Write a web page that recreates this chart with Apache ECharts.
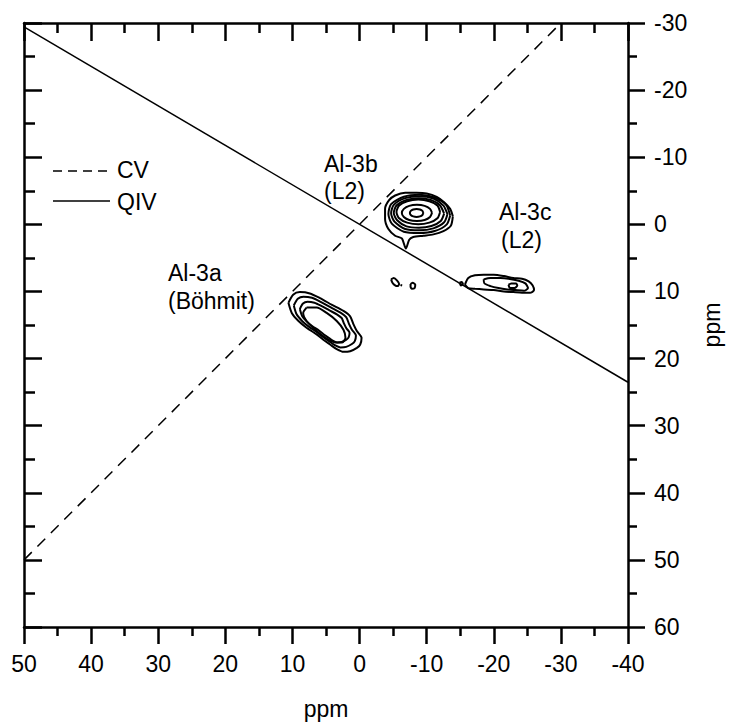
<!DOCTYPE html>
<html><head><meta charset="utf-8">
<script src="https://cdn.jsdelivr.net/npm/echarts@6/dist/echarts.min.js"></script>
<style>html,body{margin:0;padding:0;background:#fff}#c{width:731px;height:725px}</style>
</head><body><div id="c"></div>
<script>
// Reference lines
const cvLine = [[50, 50], [-30, -30]];
const qivLine = [[50, -29.41], [-40, 23.53]];

// Al-3b contours (inner -> outer)
const al3b_1 = [[-9.5,-1.7],[-9.37,-1.4],[-9.0,-1.18],[-8.5,-1.1],[-8.0,-1.18],[-7.63,-1.4],[-7.5,-1.7],[-7.63,-2.0],[-8.0,-2.22],[-8.5,-2.3],[-9.0,-2.22],[-9.37,-2.0]];
const al3b_2 = [[-10.8,-1.7],[-10.5,-1.1],[-9.7,-0.65],[-8.55,-0.5],[-7.4,-0.65],[-6.6,-1.1],[-6.3,-1.7],[-6.6,-2.3],[-7.4,-2.75],[-8.55,-2.9],[-9.7,-2.75],[-10.5,-2.3]];
const al3b_3 = [[-12.0,-1.85],[-11.6,-0.9],[-10.4,-0.25],[-8.75,0.0],[-7.1,-0.25],[-5.9,-0.9],[-5.5,-1.85],[-5.9,-2.8],[-7.1,-3.45],[-8.75,-3.7],[-10.4,-3.45],[-11.6,-2.8]];
const al3b_4 = [[-12.6,-1.6],[-12.1,-0.5],[-10.7,0.25],[-8.85,0.5],[-7.0,0.3],[-5.6,-0.6],[-5.1,-1.7],[-5.5,-2.8],[-6.9,-3.6],[-8.85,-3.9],[-10.7,-3.6],[-12.0,-2.8]];
const al3b_5 = [[-13.1,-1.5],[-12.6,-0.3],[-11.0,0.6],[-8.9,0.9],[-6.8,0.7],[-5.2,-0.4],[-4.7,-1.65],[-5.1,-2.9],[-6.8,-3.9],[-8.9,-4.2],[-11.0,-3.85],[-12.5,-2.8]];
const al3b_6 = [[-13.5,-1.3],[-13.0,0.0],[-11.2,1.0],[-8.9,1.3],[-6.6,1.1],[-4.8,-0.1],[-4.3,-1.55],[-4.7,-3.0],[-6.6,-4.1],[-8.9,-4.4],[-11.2,-4.0],[-12.9,-2.9]];
const al3b_7 = [[-13.9,-1.2],[-13.6,0.2],[-12.5,1.0],[-11.0,1.5],[-9.5,1.7],[-8.0,1.9],[-7.4,2.3],[-6.9,3.6],[-6.3,2.1],[-5.3,1.7],[-4.3,0.7],[-3.8,-0.8],[-3.8,-2.3],[-4.4,-3.6],[-5.3,-4.3],[-6.8,-4.7],[-8.5,-4.7],[-10.0,-4.6],[-11.5,-4.1],[-12.6,-3.3],[-13.5,-2.3]];

// Al-3a contours (inner -> outer)
const al3a_1 = [[7.9,12.4],[6.4,12.4],[4.9,13.2],[3.4,14.4],[2.4,15.7],[2.1,16.9],[2.6,17.6],[3.6,17.6],[5.1,16.9],[6.6,15.7],[7.9,14.4],[8.4,13.2]];
const al3a_2 = [[8.9,12.63],[8.43,11.81],[7.75,11.54],[6.73,11.68],[5.71,12.15],[4.48,12.83],[3.33,13.44],[2.65,13.99],[2.31,14.8],[1.97,15.48],[1.49,16.16],[1.63,16.84],[1.97,17.18],[2.65,17.52],[3.33,17.59],[4.01,17.32],[4.69,16.84],[5.37,16.37],[6.05,15.82],[7.07,15.14],[7.88,14.46],[8.56,13.65]];
const al3a_3 = [[9.8,12.1],[9.2,11.1],[8.36,10.78],[7.09,10.95],[5.81,11.54],[4.28,12.39],[2.84,13.16],[1.99,13.84],[1.56,14.86],[1.14,15.7],[0.54,16.56],[0.71,17.4],[1.14,17.83],[1.99,18.26],[2.84,18.34],[3.69,18.0],[4.54,17.41],[5.39,16.81],[6.24,16.13],[7.51,15.28],[8.53,14.43],[9.38,13.41]];
const al3a_4 = [[10.6,11.7],[9.9,10.5],[8.9,10.1],[7.4,10.3],[5.9,11.0],[4.1,12.0],[2.4,12.9],[1.4,13.7],[0.9,14.9],[0.4,15.9],[-0.3,16.9],[-0.1,17.9],[0.4,18.4],[1.4,18.9],[2.4,19.0],[3.4,18.6],[4.4,17.9],[5.4,17.2],[6.4,16.4],[7.9,15.4],[9.1,14.4],[10.1,13.2]];

// Al-3c contours (inner -> outer)
const al3c_1 = [[-22.2,9.0],[-22.6,8.8],[-23.3,8.8],[-23.5,9.1],[-23.1,9.5],[-22.4,9.5]];
const al3c_2 = [[-18.5,8.2],[-19.5,8.0],[-21.0,8.0],[-22.2,8.1],[-23.7,8.4],[-24.7,8.8],[-25.1,9.5],[-24.5,9.9],[-23.2,9.8],[-22.0,9.7],[-20.7,9.5],[-19.5,9.2],[-18.6,8.8]];
const al3c_3 = [[-15.7,9.0],[-16.2,8.0],[-17.2,7.6],[-18.5,7.5],[-20.0,7.5],[-21.5,7.7],[-22.9,8.0],[-24.2,8.1],[-25.2,8.5],[-25.8,9.1],[-26.0,9.8],[-25.4,10.2],[-24.2,10.2],[-22.9,10.1],[-21.5,10.0],[-20.0,9.8],[-18.5,9.7],[-17.2,9.6],[-16.2,9.5]];
const spot_1 = [[-14.9,8.7],[-15.2,8.6],[-15.4,8.9],[-15.1,9.1]];

// small isolated contours
const blob_1 = [[-4.7,8.2],[-5.1,8.0],[-5.6,8.4],[-5.9,8.9],[-5.65,9.2],[-5.3,9.1],[-4.9,8.7]];
const blob_2 = [[-7.6,8.9],[-7.9,8.7],[-8.3,9.0],[-8.2,9.5],[-7.8,9.6],[-7.6,9.3]];
const dot_1 = [[-6.1,9.05],[-6.35,9.12],[-6.1,9.05]];

const contours = [al3b_1, al3b_2, al3b_3, al3b_4, al3b_5, al3b_6, al3b_7,
  al3a_1, al3a_2, al3a_3, al3a_4, al3c_1, al3c_2, al3c_3, spot_1, blob_1, blob_2, dot_1];

const FONT = 'Arial, "Liberation Sans", sans-serif';
const FS = 23;
const chart = echarts.init(document.getElementById('c'), null, {renderer: 'svg'});

function closed(p) { return p.concat([p[0]]); }

const axisCommon = {
  type: 'value', min: -40, max: 50, interval: 10, inverse: true,
  splitLine: {show: false},
  axisLine: {onZero: false, lineStyle: {color: '#000', width: 2.5}},
};
const tickStyle = {color: '#000', width: 2.5};

const series = [
  {name: 'CV', type: 'line', data: cvLine, symbol: 'none', silent: true,
   lineStyle: {color: '#000', width: 1.5, type: [11, 8]}},
  {name: 'QIV', type: 'line', data: qivLine, symbol: 'none', silent: true,
   lineStyle: {color: '#000', width: 1.5}}
];
contours.forEach(function (c) {
  series.push({type: 'line', data: closed(c), symbol: 'none', silent: true, smooth: 0.25,
    lineStyle: {color: '#000', width: 2}});
});

function txt(x, y, s) {
  return {type: 'text', x: x, y: y, style: {text: s, fill: '#000', font: FS + 'px ' + FONT, verticalAlign: 'middle', textVerticalAlign: 'middle'}};
}

chart.setOption({
  animation: false,
  backgroundColor: '#fff',
  grid: {left: 24, right: 103, top: 23, bottom: 97},
  xAxis: [
    Object.assign({}, axisCommon, {
      position: 'bottom',
      axisTick: {inside: false, length: 17, lineStyle: tickStyle},
      minorTick: {show: true, splitNumber: 2, length: 9, lineStyle: tickStyle},
      axisLabel: {margin: 25, color: '#000', fontSize: FS, fontFamily: FONT},
      name: 'ppm', nameLocation: 'middle', nameGap: 70,
      nameTextStyle: {color: '#000', fontSize: FS, fontFamily: FONT}
    }),
    Object.assign({}, axisCommon, {
      position: 'top',
      axisTick: {inside: true, length: 18, lineStyle: tickStyle},
      minorTick: {show: true, splitNumber: 2, length: 10, lineStyle: tickStyle},
      axisLabel: {show: false}
    })
  ],
  yAxis: [
    Object.assign({}, axisCommon, {
      min: -30, max: 60, position: 'right',
      axisTick: {inside: false, length: 17, lineStyle: tickStyle},
      minorTick: {show: true, splitNumber: 2, length: 9, lineStyle: tickStyle},
      axisLabel: {margin: 26, color: '#000', fontSize: FS, fontFamily: FONT},
      name: 'ppm', nameLocation: 'middle', nameGap: 72,
      nameTextStyle: {color: '#000', fontSize: FS, fontFamily: FONT}
    }),
    Object.assign({}, axisCommon, {
      min: -30, max: 60, position: 'left',
      axisTick: {inside: true, length: 18, lineStyle: tickStyle},
      minorTick: {show: true, splitNumber: 2, length: 11, lineStyle: tickStyle},
      axisLabel: {show: false}
    })
  ],
  series: series,
  graphic: [
    {type: 'line', shape: {x1: 53, y1: 171, x2: 108, y2: 171}, style: {stroke: '#000', lineWidth: 1.5, lineDash: [9, 6]}},
    txt(117, 170, 'CV'),
    {type: 'line', shape: {x1: 53, y1: 201, x2: 110, y2: 201}, style: {stroke: '#000', lineWidth: 1.5}},
    txt(117, 202, 'QIV'),
    txt(168, 273, 'Al-3a'),
    txt(168, 301, '(Böhmit)'),
    txt(324, 164, 'Al-3b'),
    txt(324, 191, '(L2)'),
    txt(499, 212, 'Al-3c'),
    txt(501, 240, '(L2)')
  ]
});
</script></body></html>
